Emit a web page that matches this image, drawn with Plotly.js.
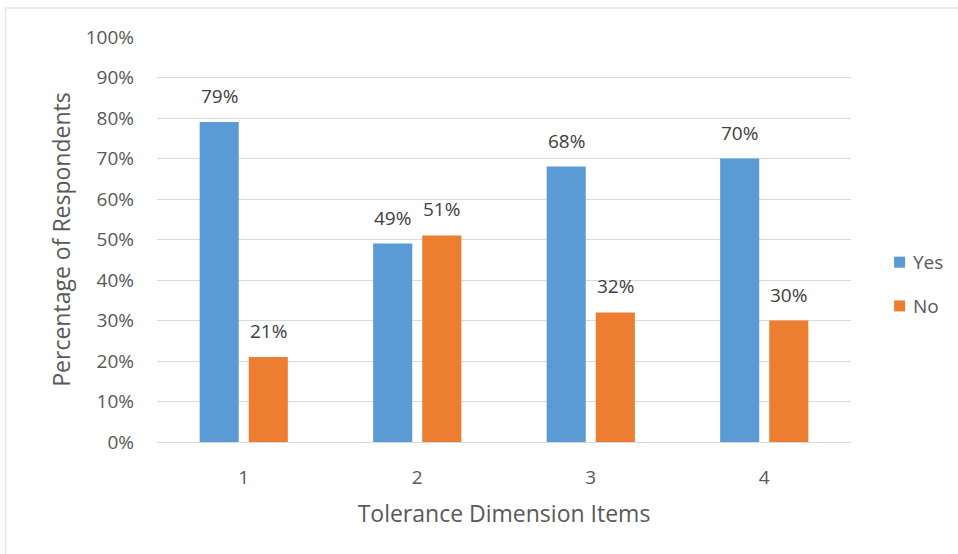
<!DOCTYPE html>
<html>
<head>
<meta charset="utf-8">
<script src="https://cdn.plot.ly/plotly-3.0.1.min.js"></script>
<style>html,body{margin:0;padding:0;background:#fff;}#chart{width:958px;height:554px;}</style>
</head>
<body>
<div id="chart"></div>
<script>
const categories = ["1", "2", "3", "4"];
const yesValues = [79, 49, 68, 70];
const noValues = [21, 51, 32, 30];
const seriesNames = ["Yes", "No"];
const yTickVals = [0, 10, 20, 30, 40, 50, 60, 70, 80, 90, 100];
const yTickText = ["0%", "10%", "20%", "30%", "40%", "50%", "60%", "70%", "80%", "90%", "100%"];

const FONT = "Open Sans, Calibri, sans-serif";
const colors = ["#5b9bd5", "#ed7d31"];

const traces = [
  {type: "bar", name: seriesNames[0], x: categories, y: yesValues, marker: {color: colors[0]}, hoverinfo: "skip"},
  {type: "bar", name: seriesNames[1], x: categories, y: noValues, marker: {color: colors[1]}, hoverinfo: "skip"}
];

const annotations = [];
[yesValues, noValues].forEach((vals, si) => {
  vals.forEach((v, i) => {
    annotations.push({
      x: i, y: v, xref: "x", yref: "y",
      text: v + "%", showarrow: false,
      xshift: si === 0 ? -24.5 : 24.5, yshift: 11, yanchor: "bottom",
      font: {family: FONT, size: 19, color: "#404040"}
    });
  });
});

// Legend drawn manually (plot area: 157..851 px wide, 37..442 px tall)
const shapes = [{
  type: "rect", xref: "paper", yref: "paper",
  x0: -0.2179, x1: 1.2, y0: -0.35, y1: 1.0716,
  line: {color: "#d9d9d9", width: 1}, fillcolor: "rgba(0,0,0,0)", layer: "below"
}];
const legendYCenters = [0.444, 0.336];
seriesNames.forEach((name, k) => {
  shapes.push({
    type: "rect", xref: "paper", yref: "paper",
    x0: 1.0621, x1: 1.0779, y0: legendYCenters[k] - 0.0136, y1: legendYCenters[k] + 0.0136,
    line: {width: 0}, fillcolor: colors[k]
  });
  annotations.push({
    xref: "paper", yref: "paper", x: 1.0866, y: legendYCenters[k],
    xanchor: "left", yanchor: "middle", text: name, showarrow: false,
    font: {family: FONT, size: 19, color: "#595959"}
  });
});

const layout = {
  width: 958, height: 554,
  margin: {l: 157, r: 107, t: 37, b: 112},
  paper_bgcolor: "#fff", plot_bgcolor: "#fff",
  barmode: "group", bargap: 0.434, bargroupgap: 0.204,
  font: {family: FONT, color: "#595959"},
  showlegend: false,
  xaxis: {
    type: "category", range: [-0.5, 3.5], showgrid: false, zeroline: false,
    showline: true, linecolor: "#d9d9d9", linewidth: 1,
    ticks: "", ticklabelstandoff: 18,
    tickfont: {family: FONT, size: 19, color: "#595959"},
    title: {text: "Tolerance Dimension Items", standoff: 17, font: {family: FONT, size: 23, color: "#595959"}}
  },
  yaxis: {
    range: [0, 100], tickvals: yTickVals, ticktext: yTickText,
    showgrid: true, gridcolor: "#d9d9d9", gridwidth: 1, zeroline: false,
    ticks: "", ticklabelstandoff: 22,
    tickfont: {family: FONT, size: 19, color: "#595959"},
    title: {text: "Percentage of Respondents", standoff: 8, font: {family: FONT, size: 23, color: "#595959"}}
  },
  annotations: annotations,
  shapes: shapes
};

Plotly.newPlot("chart", traces, layout, {displayModeBar: false, staticPlot: true});
</script>
</body>
</html>
